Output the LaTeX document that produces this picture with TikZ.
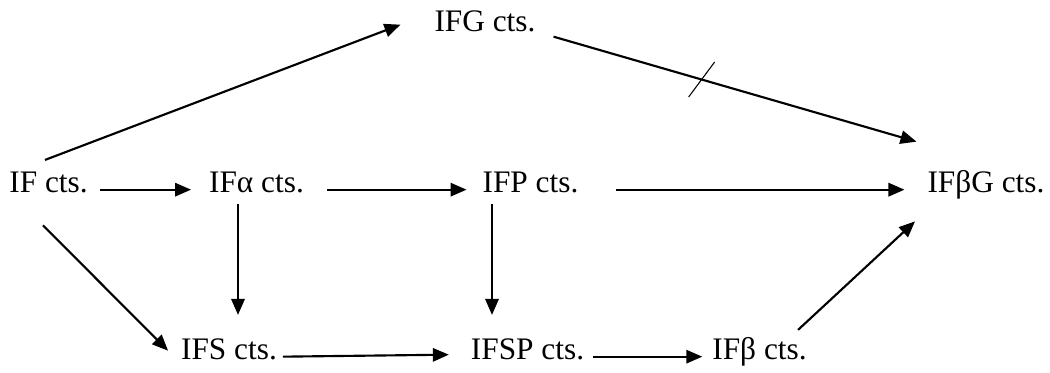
\documentclass[tikz,border=0pt]{standalone}
\usepackage{fontspec}
\setmainfont{Liberation Serif}
\usetikzlibrary{arrows.meta}
\begin{document}
\begin{tikzpicture}[x=0.75pt, y=-0.75pt, font=\fontsize{23.5}{28}\selectfont, line join=round, line width=1.6pt, >={Triangle[length=12pt,width=10pt]}, every node/.style={inner sep=0pt, text height=0.75em, text depth=0.25em, anchor=base}]
	%Khung hình.
	\useasboundingbox (0,0) rectangle (1050,372);
	%Các nút.
	\node (IF) at (48.5,192) {IF cts.};
	\node (IFa) at (256.5,192) {IFα cts.};
	\node (IFP) at (530.5,192) {IFP cts.};
	\node (IFbG) at (986,192) {IFβG cts.};
	\node (IFG) at (485,31) {IFG cts.};
	\node (IFS) at (229,359) {IFS cts.};
	\node (IFSP) at (527.5,359) {IFSP cts.};
	\node (IFb) at (759.5,359) {IFβ cts.};
	%Hàng giữa.
	\draw[->] ([shift={(11,1)}]IF.east) -- ([shift={(-17,1)}]IFa.west);
	\draw[->] ([shift={(22,1)}]IFa.east) -- ([shift={(-15,1)}]IFP.west);
	\draw[->] ([shift={(37,1)}]IFP.east) -- ([shift={(-22,1)}]IFbG.west);
	%Hàng trên.
	\draw[->] ([shift={(-3.5,-21)}]IF.north) -- ([shift={(-33,-3)}]IFG.west);
	\draw[->] ([shift={(17,9)}]IFG.east) -- coordinate[pos=0.408] (cut) ([shift={(-10,-47)}]IFbG.west);
	\draw[line width=0.8pt] ([shift={(-13,17.5)}]cut) -- ([shift={(13,-17.5)}]cut);
	%Mũi tên xuống.
	\draw[->] ([shift={(-18.5,8)}]IFa.south) -- ([shift={(9,-33)}]IFS.north);
	\draw[->] ([shift={(-38.5,8)}]IFP.south) -- ([shift={(-35.5,-33)}]IFSP.north);
	\draw[->] ([shift={(-5.5,29)}]IF.south) -- ([shift={(-12,-5)}]IFS.west);
	%Hàng dưới.
	\draw[->] ([shift={(5,1)}]IFS.east) -- ([shift={(-21,-1)}]IFSP.west);
	\draw[->] ([shift={(8,1)}]IFSP.east) -- ([shift={(-9,1)}]IFb.west);
	\draw[->] ([shift={(38.5,-18)}]IFb.north) -- ([shift={(-71,25)}]IFbG.south);
\end{tikzpicture}
\end{document}
